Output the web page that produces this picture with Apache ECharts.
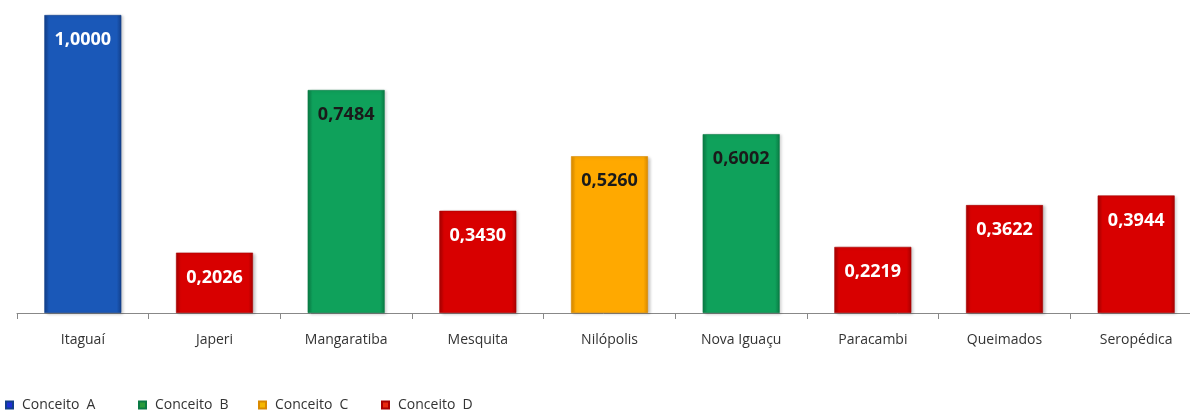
<!DOCTYPE html>
<html>
<head>
<meta charset="utf-8">
<script src="https://cdn.jsdelivr.net/npm/echarts@6/dist/echarts.min.js"></script>
<style>
  html, body { margin: 0; padding: 0; background: #fff; }
  #chart { width: 1190px; height: 414px; }
</style>
</head>
<body>
<div id="chart"></div>
<script>
// Municipalities and their index values
const categories = ['Itaguaí', 'Japeri', 'Mangaratiba', 'Mesquita', 'Nilópolis', 'Nova Iguaçu', 'Paracambi', 'Queimados', 'Seropédica'];
const values = [1.0000, 0.2026, 0.7484, 0.3430, 0.5260, 0.6002, 0.2219, 0.3622, 0.3944];
const grades = ['A', 'D', 'B', 'D', 'C', 'B', 'D', 'D', 'D'];
const gradeNames = ['Conceito  A', 'Conceito  B', 'Conceito  C', 'Conceito  D'];
const gradeKeys = ['A', 'B', 'C', 'D'];

const palette = {
  A: { base: '#1a58b8', dark: '#123f8a', text: '#ffffff', icon: '#1d2fd6' },
  B: { base: '#0fa15b', dark: '#0a7a44', text: '#1a1a1a', icon: '#2a9a3a' },
  C: { base: '#ffa900', dark: '#d98a00', text: '#1a1a1a', icon: '#f5b800' },
  D: { base: '#d80000', dark: '#a80000', text: '#ffffff', icon: '#e8280f' }
};

// Flat fill with slightly darker side edges (bevelled look)
function barFill(c) {
  return new echarts.graphic.LinearGradient(0, 0, 1, 0, [
    { offset: 0, color: c.dark },
    { offset: 0.06, color: c.base },
    { offset: 0.94, color: c.base },
    { offset: 1, color: c.dark }
  ]);
}

const fmt = v => v.toFixed(4).replace('.', ',');

const series = gradeKeys.map((k, i) => ({
  name: gradeNames[i],
  type: 'bar',
  stack: 'all',
  barWidth: 77,
  data: values.map((v, j) => grades[j] === k ? v : null),
  itemStyle: {
    color: barFill(palette[k]),
    borderColor: palette[k].dark,
    borderWidth: 0.6,
    shadowColor: 'rgba(0,0,0,0.22)',
    shadowBlur: 3,
    shadowOffsetX: 2,
    shadowOffsetY: 1
  },
  label: {
    show: true,
    position: 'insideTop',
    distance: 16,
    formatter: p => fmt(p.value),
    color: palette[k].text,
    fontFamily: 'Open Sans',
    fontWeight: 'bold',
    fontSize: 18
  }
}));

// One legend block per grade so each entry sits at its own position
const legendLefts = [5, 138, 258, 381];
const legends = gradeNames.map((n, i) => ({
  data: [{ name: n, itemStyle: { color: palette[gradeKeys[i]].icon } }],
  left: legendLefts[i],
  bottom: 2,
  padding: 0,
  icon: 'rect',
  itemWidth: 7,
  itemHeight: 7,
  textStyle: { fontFamily: 'Open Sans', fontSize: 14, color: '#333', padding: [0, 0, 0, 4] }
}));

const chart = echarts.init(document.getElementById('chart'));
chart.setOption({
  animation: false,
  legend: legends,
  grid: { left: 17, width: 1185, top: 15, bottom: 101, containLabel: false, outerBoundsMode: 'none' },
  xAxis: {
    type: 'category',
    data: categories,
    axisLine: { lineStyle: { color: '#888', width: 1 } },
    axisTick: { show: true, length: 6, lineStyle: { color: '#888' } },
    axisLabel: { fontFamily: 'Open Sans', fontSize: 14, color: '#333', margin: 20 }
  },
  yAxis: {
    type: 'value',
    min: 0,
    max: 1,
    show: false,
    splitLine: { show: false }
  },
  series
});
</script>
</body>
</html>
